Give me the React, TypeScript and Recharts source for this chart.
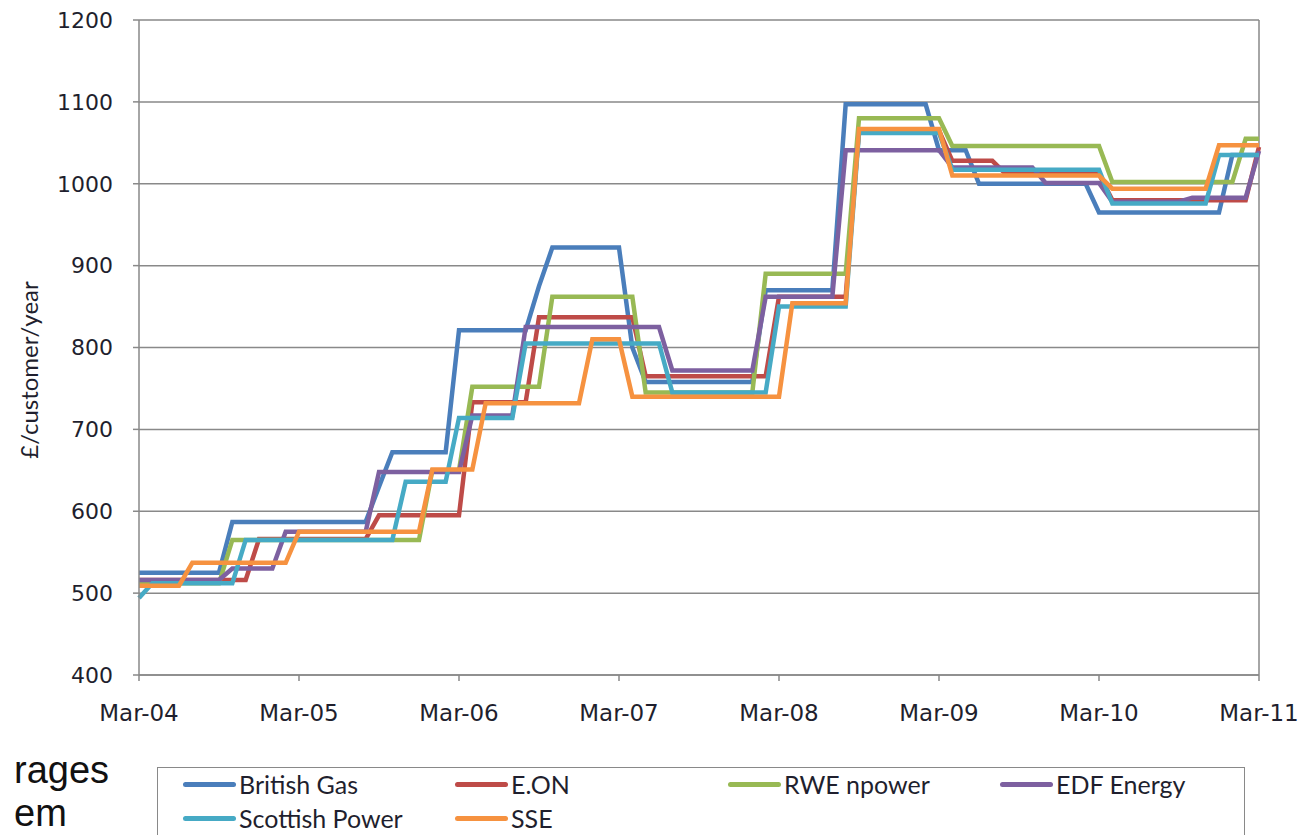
import {
  LineChart,
  Line,
  XAxis,
  YAxis,
  CartesianGrid,
  ReferenceLine,
} from "recharts"

// month labels, Mar-04 .. Mar-11
const months = [
  "Mar-04", "Apr-04", "May-04", "Jun-04", "Jul-04", "Aug-04", "Sep-04", "Oct-04", "Nov-04", "Dec-04", "Jan-05", "Feb-05",
  "Mar-05", "Apr-05", "May-05", "Jun-05", "Jul-05", "Aug-05", "Sep-05", "Oct-05", "Nov-05", "Dec-05", "Jan-06", "Feb-06",
  "Mar-06", "Apr-06", "May-06", "Jun-06", "Jul-06", "Aug-06", "Sep-06", "Oct-06", "Nov-06", "Dec-06", "Jan-07", "Feb-07",
  "Mar-07", "Apr-07", "May-07", "Jun-07", "Jul-07", "Aug-07", "Sep-07", "Oct-07", "Nov-07", "Dec-07", "Jan-08", "Feb-08",
  "Mar-08", "Apr-08", "May-08", "Jun-08", "Jul-08", "Aug-08", "Sep-08", "Oct-08", "Nov-08", "Dec-08", "Jan-09", "Feb-09",
  "Mar-09", "Apr-09", "May-09", "Jun-09", "Jul-09", "Aug-09", "Sep-09", "Oct-09", "Nov-09", "Dec-09", "Jan-10", "Feb-10",
  "Mar-10", "Apr-10", "May-10", "Jun-10", "Jul-10", "Aug-10", "Sep-10", "Oct-10", "Nov-10", "Dec-10", "Jan-11", "Feb-11",
  "Mar-11",
]

const xTicks = ["Mar-04", "Mar-05", "Mar-06", "Mar-07", "Mar-08", "Mar-09", "Mar-10", "Mar-11"]
const yTicks = [400, 500, 600, 700, 800, 900, 1000, 1100, 1200]

const britishGas = [
  525, 525, 525, 525, 525, 525, 525, 587, 587, 587, 587, 587,
  587, 587, 587, 587, 587, 587, 630, 672, 672, 672, 672, 672,
  821, 821, 821, 821, 821, 821, 875, 922, 922, 922, 922, 922,
  922, 800, 758, 758, 758, 758, 758, 758, 758, 758, 758, 870,
  870, 870, 870, 870, 870, 1097, 1097, 1097, 1097, 1097, 1097, 1097,
  1041, 1041, 1041, 1000, 1000, 1000, 1000, 1000, 1000, 1000, 1000, 1000,
  965, 965, 965, 965, 965, 965, 965, 965, 965, 965, 1035, 1035,
  1035,
]

const eon = [
  516, 516, 516, 516, 516, 516, 516, 516, 516, 566, 566, 566,
  566, 566, 566, 566, 566, 566, 595, 595, 595, 595, 595, 595,
  595, 733, 733, 733, 733, 733, 837, 837, 837, 837, 837, 837,
  837, 837, 765, 765, 765, 765, 765, 765, 765, 765, 765, 765,
  862, 862, 862, 862, 862, 862, 1065, 1065, 1065, 1065, 1065, 1065,
  1065, 1028, 1028, 1028, 1028, 1012, 1012, 1012, 1012, 1012, 1012, 1012,
  1012, 980, 980, 980, 980, 980, 980, 980, 980, 980, 980, 980,
  1045,
]

const rwe = [
  512, 512, 512, 512, 512, 512, 512, 565, 565, 565, 565, 565,
  565, 565, 565, 565, 565, 565, 565, 565, 565, 565, 650, 650,
  650, 752, 752, 752, 752, 752, 752, 862, 862, 862, 862, 862,
  862, 862, 745, 745, 745, 745, 745, 745, 745, 745, 745, 890,
  890, 890, 890, 890, 890, 890, 1080, 1080, 1080, 1080, 1080, 1080,
  1080, 1046, 1046, 1046, 1046, 1046, 1046, 1046, 1046, 1046, 1046, 1046,
  1046, 1002, 1002, 1002, 1002, 1002, 1002, 1002, 1002, 1002, 1002, 1055,
  1055,
]

const edf = [
  516, 516, 516, 516, 516, 516, 516, 530, 530, 530, 530, 575,
  575, 575, 575, 575, 575, 575, 648, 648, 648, 648, 648, 648,
  648, 717, 717, 717, 717, 825, 825, 825, 825, 825, 825, 825,
  825, 825, 825, 825, 772, 772, 772, 772, 772, 772, 772, 862,
  862, 862, 862, 862, 862, 1041, 1041, 1041, 1041, 1041, 1041, 1041,
  1041, 1020, 1020, 1020, 1020, 1020, 1020, 1020, 1001, 1001, 1001, 1001,
  1001, 978, 978, 978, 978, 978, 978, 983, 983, 983, 983, 983,
  1040,
]

const scottishPower = [
  494, 512, 512, 512, 512, 512, 512, 512, 565, 565, 565, 565,
  565, 565, 565, 565, 565, 565, 565, 565, 636, 636, 636, 636,
  714, 714, 714, 714, 714, 805, 805, 805, 805, 805, 805, 805,
  805, 805, 805, 805, 745, 745, 745, 745, 745, 745, 745, 745,
  850, 850, 850, 850, 850, 850, 1062, 1062, 1062, 1062, 1062, 1062,
  1062, 1017, 1017, 1017, 1017, 1017, 1017, 1017, 1017, 1017, 1017, 1017,
  1017, 976, 976, 976, 976, 976, 976, 976, 976, 1035, 1035, 1035,
  1035,
]

const sse = [
  509, 509, 509, 509, 537, 537, 537, 537, 537, 537, 537, 537,
  575, 575, 575, 575, 575, 575, 575, 575, 575, 575, 651, 651,
  651, 651, 732, 732, 732, 732, 732, 732, 732, 732, 810, 810,
  810, 740, 740, 740, 740, 740, 740, 740, 740, 740, 740, 740,
  740, 854, 854, 854, 854, 854, 1067, 1067, 1067, 1067, 1067, 1067,
  1067, 1010, 1010, 1010, 1010, 1010, 1010, 1010, 1010, 1010, 1010, 1010,
  1010, 994, 994, 994, 994, 994, 994, 994, 994, 1047, 1047, 1047,
  1047,
]

const series = [
  { key: "britishGas", label: "British Gas", values: britishGas, color: "#4A7EBB" },
  { key: "eon", label: "E.ON", values: eon, color: "#BE4B48" },
  { key: "rwe", label: "RWE npower", values: rwe, color: "#98B954" },
  { key: "edf", label: "EDF Energy", values: edf, color: "#7D60A0" },
  { key: "scottishPower", label: "Scottish Power", values: scottishPower, color: "#46AAC5" },
  { key: "sse", label: "SSE", values: sse, color: "#F69240" },
]

const data = months.map((month, i) => {
  const point: Record<string, string | number> = { month }
  for (const s of series) point[s.key] = s.values[i]
  return point
})

const axisGray = "#898989"
const textColor = "#1f1f2e"

// legend slots: [left, top] inside the page
const legendPos = [
  [183, 769],
  [455, 769],
  [728, 769],
  [1000, 769],
  [183, 803],
  [455, 803],
]

export default function App() {
  return (
    <div
      style={{
        position: "absolute",
        left: 0,
        top: 0,
        width: 1305,
        height: 835,
        overflow: "hidden",
        background: "#fff",
      }}
    >
      <LineChart
        width={1305}
        height={735}
        data={data}
        margin={{ top: 20, right: 46, left: 0, bottom: 0 }}
      >
        <CartesianGrid vertical={false} stroke={axisGray} strokeWidth={1.5} />
        <XAxis
          dataKey="month"
          ticks={xTicks}
          interval={0}
          height={60}
          tickSize={6}
          tickMargin={24}
          stroke={axisGray}
          strokeWidth={1.5}
          tick={{ fontSize: 23, fill: textColor, fontFamily: "DejaVu Sans" }}
        />
        <YAxis
          domain={[400, 1200]}
          ticks={yTicks}
          width={139}
          tickSize={6}
          tickMargin={20}
          stroke={axisGray}
          strokeWidth={1.5}
          tick={{ fontSize: 22, fill: textColor, fontFamily: "DejaVu Sans" }}
        />
        <ReferenceLine x="Mar-11" stroke={axisGray} strokeWidth={1.5} />
        {series.map((s) => (
          <Line
            key={s.key}
            type="linear"
            dataKey={s.key}
            name={s.label}
            stroke={s.color}
            strokeWidth={4.5}
            dot={false}
            isAnimationActive={false}
          />
        ))}
      </LineChart>

      <div
        style={{
          position: "absolute",
          left: 28,
          top: 370,
          transform: "translate(-50%, -50%) rotate(-90deg)",
          whiteSpace: "nowrap",
          fontFamily: "Lato",
          fontSize: 24,
          color: textColor,
        }}
      >
        £/customer/year
      </div>

      <div
        style={{
          position: "absolute",
          left: 157,
          top: 767,
          width: 1088,
          height: 90,
          border: `1.5px solid ${axisGray}`,
          boxSizing: "border-box",
        }}
      />
      {series.map((s, i) => (
        <div
          key={s.key}
          style={{
            position: "absolute",
            left: legendPos[i][0],
            top: legendPos[i][1],
            display: "flex",
            alignItems: "center",
            fontFamily: "Lato",
            fontSize: 25,
            color: textColor,
            whiteSpace: "nowrap",
          }}
        >
          <span
            style={{
              display: "inline-block",
              width: 53,
              height: 5,
              borderRadius: 3,
              background: s.color,
              marginRight: 3,
            }}
          />
          {s.label}
        </div>
      ))}

      {/* slide text showing from under the chart */}
      <div
        style={{
          position: "absolute",
          left: 14,
          top: 749,
          fontFamily: "Liberation Sans",
          fontSize: 38,
          color: "#111",
          lineHeight: "42px",
        }}
      >
        rages
      </div>
      <div
        style={{
          position: "absolute",
          left: 14,
          top: 792,
          fontFamily: "Liberation Sans",
          fontSize: 38,
          color: "#111",
          lineHeight: "42px",
        }}
      >
        em
      </div>
    </div>
  )
}
